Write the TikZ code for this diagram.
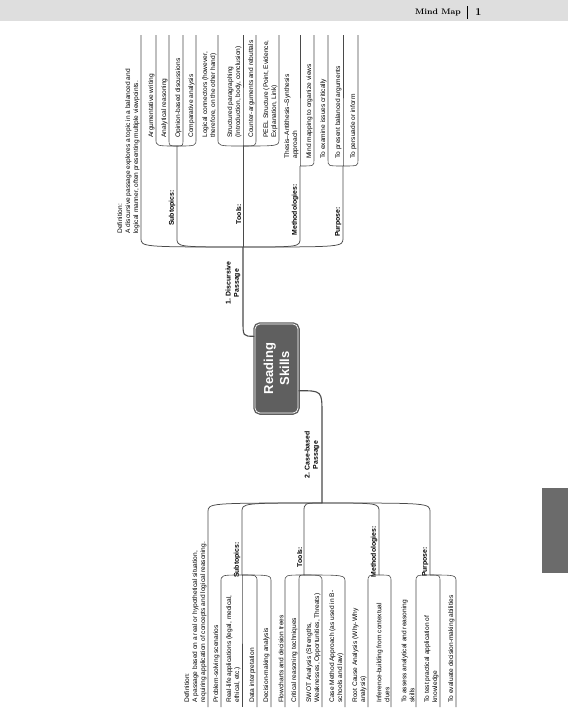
\documentclass[tikz,border=0pt]{standalone}
\usepackage{fontspec}
\setsansfont{Liberation Sans}
\usetikzlibrary{calc,positioning}

\definecolor{bandgray}{HTML}{DEDEDE}
\definecolor{hubgray}{HTML}{5F5F5F}
\definecolor{tabgray}{HTML}{6B6B6B}
\definecolor{wiregray}{HTML}{4A4A4A}

\begin{document}
\begin{tikzpicture}[
  x=1pt, y=-1pt,
  header/.style={font=\rmfamily\bfseries\fontsize{8}{9}\selectfont, inner sep=0pt},
  hub/.style={rectangle, rotate=90, rounded corners=5pt, fill=hubgray,
              draw=hubgray, line width=1.4pt, double=white, double distance=0.7pt,
              minimum width=89pt, minimum height=43pt, align=center, text=white,
              font=\sffamily\bfseries\fontsize{13}{16}\selectfont},
  topic/.style={rotate=90, anchor=south, inner sep=1.5pt, align=center,
                font=\sffamily\bfseries\fontsize{6.9}{8.2}\selectfont},
  leaf/.style={rotate=90, anchor=south west, inner sep=1.3pt, align=left,
               font=\sffamily\fontsize{6.6}{8}\selectfont},
  trunk/.style={draw=wiregray, line width=1.1pt},
  limb/.style={draw=wiregray, line width=0.75pt},
  twig/.style={draw=wiregray, line width=0.6pt},
  elbow/.style={to path={.. controls (\tikztostart -| \tikztotarget) .. (\tikztotarget)}},
]
  \useasboundingbox (0,0) rectangle (568,713);

  % page header and side tab
  \fill[bandgray] (0,0) rectangle (568,21);
  \node[header, anchor=east] (title) at (461,12.5) {Mind Map};
  \node[header, font=\rmfamily\bfseries\fontsize{10.5}{11}\selectfont] (pageno) at (478.5,12) {1};
  \draw[line width=0.9pt] (467,6) -- (467,18.5);
  \fill[tabgray] (542,488) rectangle (568,573);

  % outer ends of the leaf lines
  \coordinate (topEdge) at (0,35);
  \coordinate (botEdge) at (0,707);
  \coordinate (botText) at (0,704);

  % central topic
  \node[hub] (hub) at (276.5,368.5) {Reading\\Skills};
  \coordinate (hubT) at ($(hub.north east)+(0,13)$);
  \coordinate (hubB) at ($(hub.south west)+(0,-23)$);

  % ---- 1. Discursive Passage ----
  \coordinate (dFork) at (243,247);
  \coordinate (dBend) at (243,321);
  \draw[trunk] (hubT) to[elbow] (dBend) -- (dFork);
  \node[topic] (disc) at (242,283) {1. Discursive\\Passage};

  \coordinate (dDef) at (141,238);
  \draw[limb] (dFork) to[elbow] (dDef) -- (dDef |- topEdge);
  \node[leaf] (dDefT) at (141,235) {Definition:\\A discursive passage explores a topic in a balanced and\\logical manner, often presenting multiple viewpoints.};

  % subtopics
  \coordinate (dSub) at (177,238);
  \coordinate (dSubJ) at (177,146);
  \draw[limb] (dFork) to[elbow] (dSub) -- (dSubJ);
  \node[topic] (dSubT) at (177,208) {Subtopics:};
  \coordinate (dSub1) at (156,139);
  \coordinate (dSub2) at (169,139);
  \coordinate (dSub3) at (183,139);
  \coordinate (dSub4) at (196,139);
  \node[leaf] (dSub1T) at (dSub1) {Argumentative writing};
  \node[leaf] (dSub2T) at (dSub2) {Analytical reasoning};
  \node[leaf] (dSub3T) at (dSub3) {Opinion-based discussions};
  \node[leaf] (dSub4T) at (dSub4) {Comparative analysis};
  \draw[twig] (dSubJ) to[elbow] (dSub1) -- (dSub1 |- topEdge);
  \draw[twig] (dSubJ) to[elbow] (dSub2) -- (dSub2 |- topEdge);
  \draw[twig] (dSubJ) to[elbow] (dSub3) -- (dSub3 |- topEdge);
  \draw[twig] (dSubJ) to[elbow] (dSub4) -- (dSub4 |- topEdge);

  % tools
  \coordinate (dToolJ) at (243,146);
  \draw[limb] (dFork) -- (dToolJ);
  \node[topic] (dToolT) at (243,214) {Tools:};
  \coordinate (dTool1) at (218,139);
  \coordinate (dTool2) at (243,139);
  \coordinate (dTool3) at (256,139);
  \coordinate (dTool4) at (279,139);
  \node[leaf] (dTool1T) at (dTool1) {Logical connectors (however,\\therefore, on the other hand)};
  \node[leaf] (dTool2T) at (dTool2) {Structured paragraphing\\(Introduction, body, conclusion)};
  \node[leaf] (dTool3T) at (dTool3) {Counter-arguments and rebuttals};
  \node[leaf] (dTool4T) at (dTool4) {PEEL Structure (Point, Evidence,\\Explanation, Link)};
  \draw[twig] (dToolJ) to[elbow] (dTool1) -- (dTool1 |- topEdge);
  \draw[twig] (dToolJ) to[elbow] (dTool2) -- (dTool2 |- topEdge);
  \draw[twig] (dToolJ) to[elbow] (dTool3) -- (dTool3 |- topEdge);
  \draw[twig] (dToolJ) to[elbow] (dTool4) -- (dTool4 |- topEdge);

  % methodologies
  \coordinate (dMeth) at (300,238);
  \coordinate (dMethJ) at (300,166);
  \draw[limb] (dFork) to[elbow] (dMeth) -- (dMethJ);
  \node[topic] (dMethT) at (300,210) {Methodologies:};
  \coordinate (dMeth1) at (300,160);
  \coordinate (dMeth2) at (314,160);
  \node[leaf] (dMeth1T) at (dMeth1) {Thesis–Antithesis–Synthesis\\approach};
  \node[leaf] (dMeth2T) at (dMeth2) {Mind mapping to organize views};
  \draw[twig] (dMethJ) to[elbow] (dMeth1) -- (dMeth1 |- topEdge);
  \draw[twig] (dMethJ) to[elbow] (dMeth2) -- (dMeth2 |- topEdge);

  % purpose
  \coordinate (dPur) at (343,238);
  \coordinate (dPurJ) at (343,166);
  \draw[limb] (dFork) to[elbow] (dPur) -- (dPurJ);
  \node[topic] (dPurT) at (343,222) {Purpose:};
  \coordinate (dPur1) at (328,160);
  \coordinate (dPur2) at (343,160);
  \coordinate (dPur3) at (358,160);
  \node[leaf] (dPur1T) at (dPur1) {To examine issues critically};
  \node[leaf] (dPur2T) at (dPur2) {To present balanced arguments};
  \node[leaf] (dPur3T) at (dPur3) {To persuade or inform};
  \draw[twig] (dPurJ) to[elbow] (dPur1) -- (dPur1 |- topEdge);
  \draw[twig] (dPurJ) to[elbow] (dPur2) -- (dPur2 |- topEdge);
  \draw[twig] (dPurJ) to[elbow] (dPur3) -- (dPur3 |- topEdge);

  % ---- 2. Case-based Passage ----
  \coordinate (cBend) at (322,414);
  \coordinate (cFork) at (322,503);
  \draw[trunk] (hubB) to[elbow] (cBend) -- (cFork);
  \node[topic] (case) at (321,455) {2. Case-based\\Passage};

  \coordinate (cDef) at (208,512);
  \draw[limb] (cFork) to[elbow] (cDef) -- (cDef |- botEdge);
  \node[leaf] (cDefT) at (cDef |- botText) {Definition:\\A passage based on a real or hypothetical situation,\\requiring application of concepts and logical reasoning.};

  % subtopics
  \coordinate (cSub) at (242,512);
  \coordinate (cSubJ) at (242,575);
  \draw[limb] (cFork) to[elbow] (cSub) -- (cSubJ);
  \node[topic] (cSubT) at (242,560) {Subtopics:};
  \coordinate (cSub1) at (221,582);
  \coordinate (cSub2) at (242,582);
  \coordinate (cSub3) at (257,582);
  \coordinate (cSub4) at (271,582);
  \node[leaf] (cSub1T) at (cSub1 |- botText) {Problem-solving scenarios};
  \node[leaf] (cSub2T) at (cSub2 |- botText) {Real-life applications (legal, medical,\\ethical, etc.)};
  \node[leaf] (cSub3T) at (cSub3 |- botText) {Data interpretation};
  \node[leaf] (cSub4T) at (cSub4 |- botText) {Decision-making analysis};
  \draw[twig] (cSubJ) to[elbow] (cSub1) -- (cSub1 |- botEdge);
  \draw[twig] (cSubJ) to[elbow] (cSub2) -- (cSub2 |- botEdge);
  \draw[twig] (cSubJ) to[elbow] (cSub3) -- (cSub3 |- botEdge);
  \draw[twig] (cSubJ) to[elbow] (cSub4) -- (cSub4 |- botEdge);

  % tools
  \coordinate (cTool) at (304,512);
  \coordinate (cToolJ) at (304,575);
  \draw[limb] (cFork) to[elbow] (cTool) -- (cToolJ);
  \node[topic] (cToolT) at (304,557) {Tools:};
  \coordinate (cTool1) at (285,582);
  \coordinate (cTool2) at (299,582);
  \coordinate (cTool3) at (322,582);
  \coordinate (cTool4) at (345,582);
  \node[leaf] (cTool1T) at (cTool1 |- botText) {Flowcharts and decision trees};
  \node[leaf] (cTool2T) at (cTool2 |- botText) {Critical reasoning techniques};
  \node[leaf] (cTool3T) at (cTool3 |- botText) {SWOT Analysis (Strengths,\\Weaknesses, Opportunities, Threats)};
  \node[leaf] (cTool4T) at (cTool4 |- botText) {Case Method Approach (as used in B-\\schools and law)};
  \draw[twig] (cToolJ) to[elbow] (cTool1) -- (cTool1 |- botEdge);
  \draw[twig] (cToolJ) to[elbow] (cTool2) -- (cTool2 |- botEdge);
  \draw[twig] (cToolJ) to[elbow] (cTool3) -- (cTool3 |- botEdge);
  \draw[twig] (cToolJ) to[elbow] (cTool4) -- (cTool4 |- botEdge);

  % methodologies
  \coordinate (cMeth) at (379,512);
  \coordinate (cMethJ) at (379,575);
  \draw[limb] (cFork) to[elbow] (cMeth) -- (cMethJ);
  \node[topic] (cMethT) at (379,552) {Methodologies:};
  \coordinate (cMeth1) at (368,582);
  \coordinate (cMeth2) at (391,582);
  \node[leaf] (cMeth1T) at (cMeth1 |- botText) {Root Cause Analysis (Why-Why\\analysis)};
  \node[leaf] (cMeth2T) at (cMeth2 |- botText) {Inference-building from contextual\\clues};
  \draw[twig] (cMethJ) to[elbow] (cMeth1) -- (cMeth1 |- botEdge);
  \draw[twig] (cMethJ) to[elbow] (cMeth2) -- (cMeth2 |- botEdge);

  % purpose
  \coordinate (cPur) at (430,512);
  \coordinate (cPurJ) at (430,575);
  \draw[limb] (cFork) to[elbow] (cPur) -- (cPurJ);
  \node[topic] (cPurT) at (430,562) {Purpose:};
  \coordinate (cPur1) at (416,582);
  \coordinate (cPur2) at (440,582);
  \coordinate (cPur3) at (456,582);
  \node[leaf] (cPur1T) at (cPur1 |- botText) {To assess analytical and reasoning\\skills};
  \node[leaf] (cPur2T) at (cPur2 |- botText) {To test practical application of\\knowledge};
  \node[leaf] (cPur3T) at (cPur3 |- botText) {To evaluate decision-making abilities};
  \draw[twig] (cPurJ) to[elbow] (cPur1) -- (cPur1 |- botEdge);
  \draw[twig] (cPurJ) to[elbow] (cPur2) -- (cPur2 |- botEdge);
  \draw[twig] (cPurJ) to[elbow] (cPur3) -- (cPur3 |- botEdge);
\end{tikzpicture}
\end{document}
